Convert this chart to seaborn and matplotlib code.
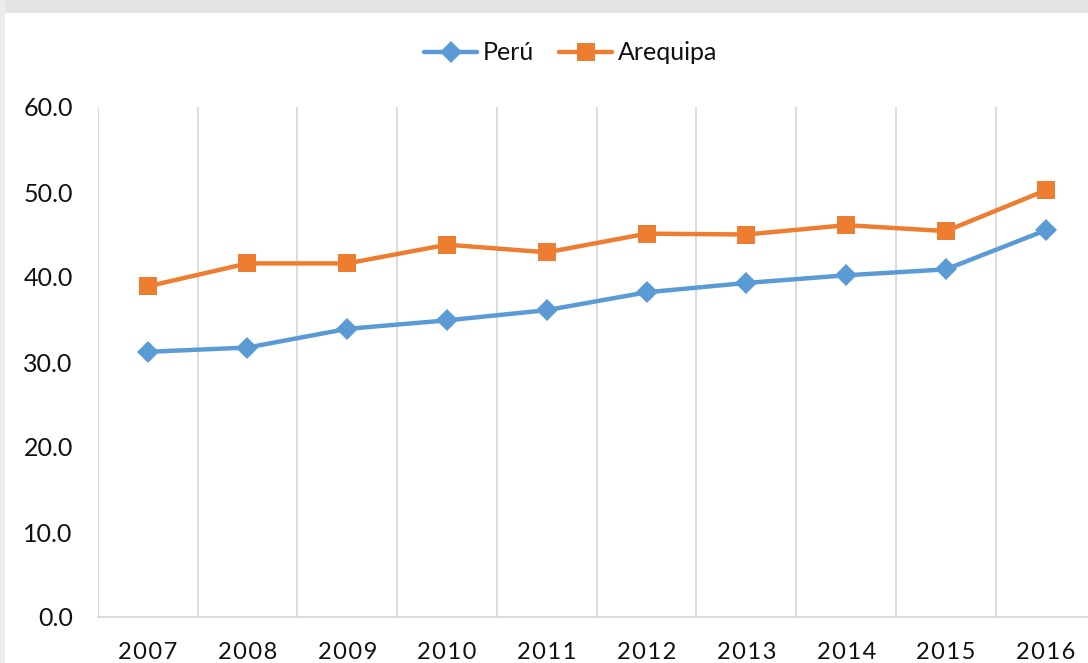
import matplotlib
matplotlib.use("Agg")
import matplotlib.pyplot as plt
import seaborn as sns
import pandas as pd
from matplotlib.patches import Rectangle

years = ["2007", "2008", "2009", "2010", "2011", "2012", "2013", "2014", "2015", "2016"]
peru = [31.2, 31.7, 33.9, 34.9, 36.1, 38.2, 39.3, 40.2, 40.9, 45.5]
arequipa = [38.9, 41.6, 41.6, 43.8, 42.9, 45.1, 45.0, 46.1, 45.4, 50.2]
y_ticks = [0, 10, 20, 30, 40, 50, 60]

sns.set_theme(style="white")
plt.rcParams['font.family'] = ['Lato', 'DejaVu Sans']

W, H = 1088, 663
fig = plt.figure(figsize=(W / 100, H / 100), dpi=100)
fig.patch.set_facecolor("white")
# light grey band at the top (background of the source image)
fig.patches.append(Rectangle((0, 1 - 13 / H), 1, 13 / H, transform=fig.transFigure,
                             facecolor="#e4e4e4", edgecolor="none", zorder=0))
fig.patches.append(Rectangle((0, 0), 5 / W, 1, transform=fig.transFigure,
                             facecolor="#ececec", edgecolor="none", zorder=0))

left, right = 97.8 / W, 1095.6 / W
bottom, top = (H - 617) / H, (H - 107) / H
ax = fig.add_axes([left, bottom, right - left, top - bottom])
ax.set_facecolor("white")

x = list(range(len(years)))
df_p = pd.DataFrame({"x": x, "v": peru})
df_a = pd.DataFrame({"x": x, "v": arequipa})
sns.lineplot(data=df_p, x="x", y="v", ax=ax, color="#5B9BD5", lw=3.2,
             marker="D", markersize=11, markeredgewidth=0, label="Perú", zorder=3)
sns.lineplot(data=df_a, x="x", y="v", ax=ax, color="#ED7D31", lw=3.2,
             marker="s", markersize=13, markeredgewidth=0, label="Arequipa", zorder=3)

txt = "#111111"
ax.set_xlim(-0.5, len(years) - 0.5)
ax.set_ylim(0, 60)
ax.set_xticks(x)
ax.set_xticklabels(["\u200a".join(list(y)) for y in years], fontsize=17, color=txt)
ax.set_xticks([i + 0.5 for i in range(-1, len(years))], minor=True)
ax.set_yticks(y_ticks)
ax.set_yticklabels([f"{v:.1f}" for v in y_ticks], fontsize=18, color=txt)
ax.grid(False)
ax.grid(True, which="minor", axis="x", color="#d9d9d9", lw=1.3)
ax.tick_params(axis="both", which="both", length=0)
ax.tick_params(axis="x", pad=18)
ax.tick_params(axis="y", pad=18)
for s in ["top", "right", "left"]:
    ax.spines[s].set_visible(False)
ax.spines["bottom"].set_color("#d9d9d9")
ax.spines["bottom"].set_linewidth(1.3)
ax.set_xlabel("")
ax.set_ylabel("")

leg = ax.legend(loc="center", bbox_to_anchor=(571 / W, 1 - 53 / H), bbox_transform=fig.transFigure,
                ncol=2, frameon=False, fontsize=18, handlelength=2.1, columnspacing=1.0,
                handletextpad=0.25)
for t in leg.get_texts():
    t.set_color(txt)

fig.savefig("out.png", dpi=100)
